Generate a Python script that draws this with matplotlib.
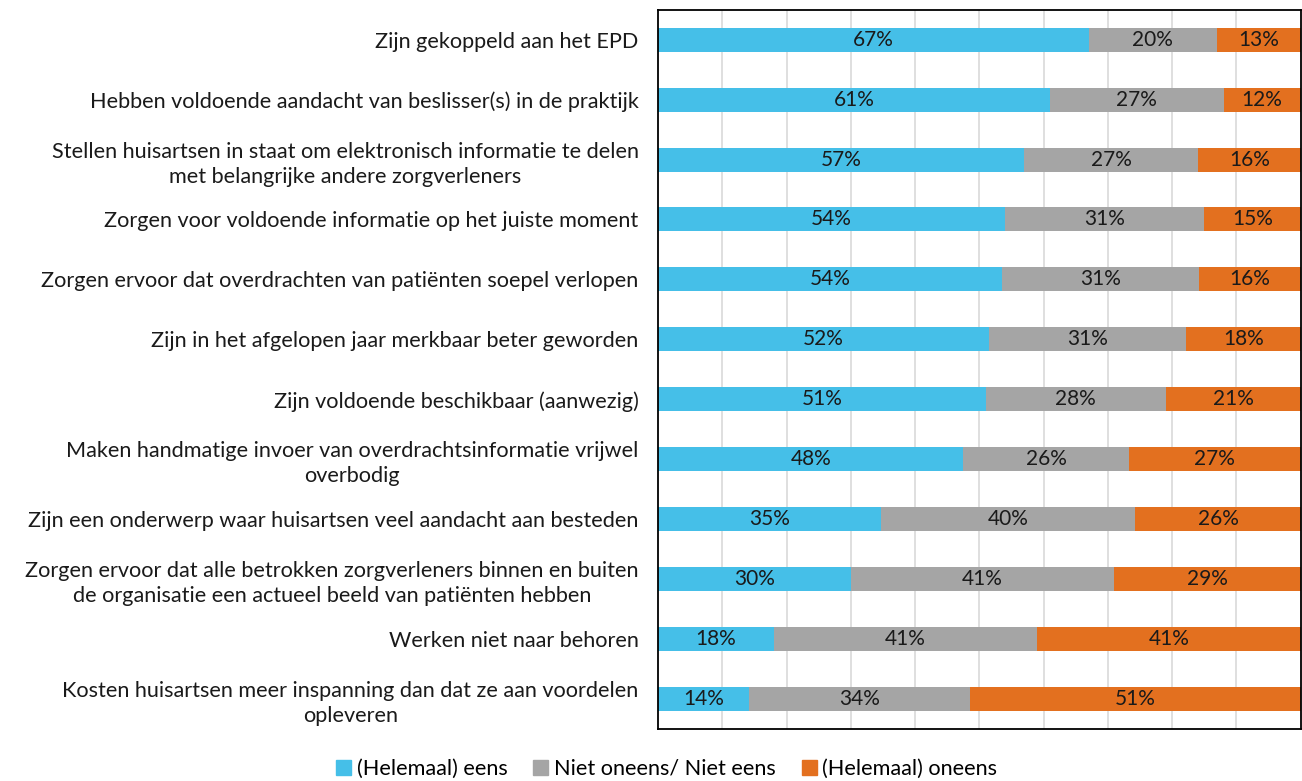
import numpy as np
import matplotlib
matplotlib.use("Agg")
from matplotlib import pyplot as plt
from matplotlib.patches import Patch

plt.rcParams['font.family'] = ['Lato', 'DejaVu Sans']

# stellingen (van boven naar onder)
categories = [
    "Zijn gekoppeld aan het EPD",
    "Hebben voldoende aandacht van beslisser(s) in de praktijk",
    "Stellen huisartsen in staat om elektronisch informatie te delen\nmet belangrijke andere zorgverleners",
    "Zorgen voor voldoende informatie op het juiste moment",
    "Zorgen ervoor dat overdrachten van patiënten soepel verlopen",
    "Zijn in het afgelopen jaar merkbaar beter geworden",
    "Zijn voldoende beschikbaar (aanwezig)",
    "Maken handmatige invoer van overdrachtsinformatie vrijwel\noverbodig",
    "Zijn een onderwerp waar huisartsen veel aandacht aan besteden",
    "Zorgen ervoor dat alle betrokken zorgverleners binnen en buiten\nde organisatie een actueel beeld van patiënten hebben",
    "Werken niet naar behoren",
    "Kosten huisartsen meer inspanning dan dat ze aan voordelen\nopleveren",
]
eens = [67, 61, 57, 54, 54, 52, 51, 48, 35, 30, 18, 14]
neutraal = [20, 27, 27, 31, 31, 31, 28, 26, 40, 41, 41, 34]
oneens = [13, 12, 16, 15, 16, 18, 21, 27, 26, 29, 41, 51]

series = [
    ("(Helemaal) eens", eens, "#45BFE8"),
    ("Niet oneens/ Niet eens", neutraal, "#A5A5A5"),
    ("(Helemaal) oneens", oneens, "#E3701F"),
]

fig = plt.figure(figsize=(13.02, 7.81), dpi=100)
ax = fig.add_axes([0.5054, 0.0666, 0.4936, 0.921])

vals = np.array([eens, neutraal, oneens], dtype=float)
# rijen normaliseren naar 100% (afronding in de labels)
shares = vals / vals.sum(axis=0) * 100
y = np.arange(len(categories))
left = np.zeros(len(categories))
for (name, raw, color), share in zip(series, shares):
    ax.barh(y, share, left=left, height=0.4, color=color, zorder=2)
    for yi, l, w, r in zip(y, left, share, raw):
        ax.text(l + w / 2, yi, f"{r}%", ha='center', va='center',
                fontsize=15, color='#1a1a1a', zorder=3)
    left += share

ax.set_xlim(0, 100)
ax.set_ylim(len(categories) - 0.5, -0.5)
ax.set_xticks(np.arange(10, 100, 10))
ax.xaxis.grid(True, color='#D9D9D9', linewidth=1.2, zorder=0)
ax.tick_params(axis='x', length=0, labelbottom=False)
ax.set_yticks(y)
ax.set_yticklabels(categories, fontsize=15.6, color='#1a1a1a',
                   multialignment='center', linespacing=1.32)
ax.tick_params(axis='y', length=0, pad=14)
for s in ax.spines.values():
    s.set_color('black')
    s.set_linewidth(1.3)

handles = [Patch(color=c, label=n) for n, _, c in series]
fig.legend(handles=handles, loc='lower center', ncol=3,
           bbox_to_anchor=(0.512, -0.022), frameon=False, fontsize=15.6,
           handlelength=0.7, handleheight=0.7, handletextpad=0.25,
           columnspacing=1.2)

fig.savefig("out.png", dpi=100)
